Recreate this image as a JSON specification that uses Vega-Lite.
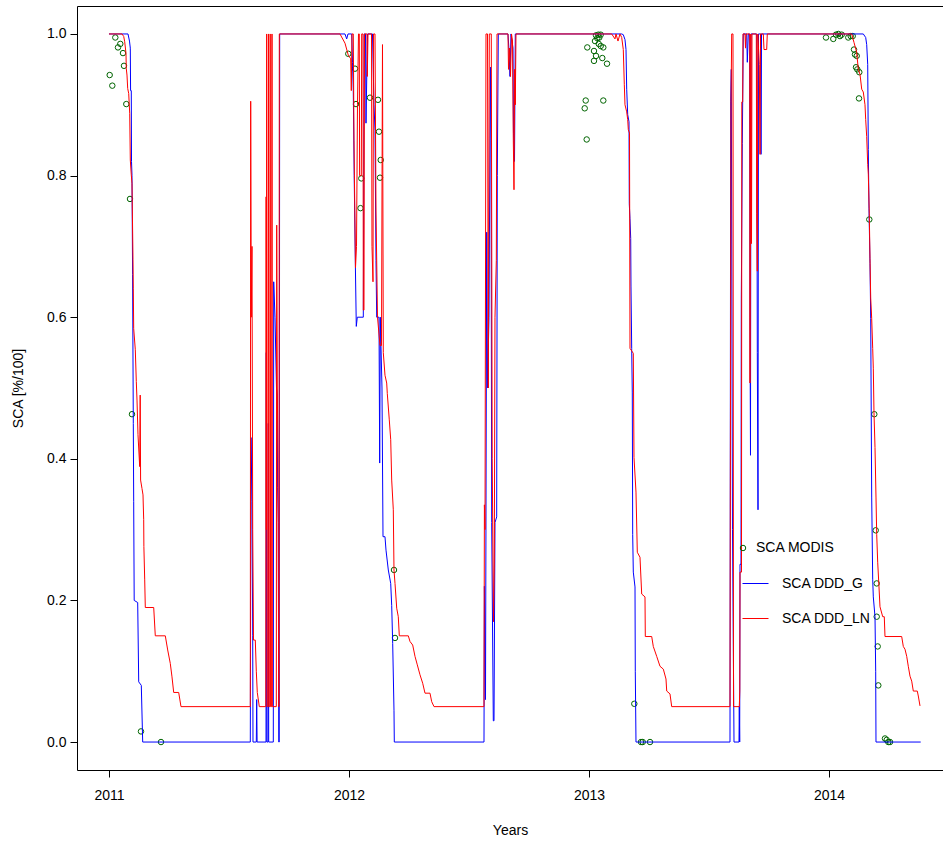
{
"$schema":"https://vega.github.io/schema/vega-lite/v6.json",
"width":866,"height":764,
"autosize":{"type":"none"},
"padding":{"left":77,"top":6,"right":0,"bottom":72},
"background":"white",
"config":{"view":{"stroke":null},"font":"Liberation Sans",
 "axis":{"grid":false,"domainColor":"#000","tickColor":"#000","labelColor":"#000","titleColor":"#000","labelFont":"Liberation Sans","titleFont":"Liberation Sans","labelFontSize":14,"titleFontSize":14,"titleFontWeight":"normal","domainWidth":1,"tickWidth":1,"tickSize":7},
 "legend":{"labelFont":"Liberation Sans","labelFontSize":14,"labelColor":"#000"}},
"datasets":{
"modis":[
{"year":2011.0029,"sca":0.942},{"year":2011.0138,"sca":0.927},{"year":2011.0263,"sca":0.995},{"year":2011.0375,"sca":0.981},{"year":2011.0471,"sca":0.986},{"year":2011.0583,"sca":0.973},{"year":2011.0625,"sca":0.955},{"year":2011.0721,"sca":0.901},{"year":2011.0875,"sca":0.767},{"year":2011.0958,"sca":0.463},{"year":2011.1333,"sca":0.015},{"year":2011.2167,"sca":0},
{"year":2011.9971,"sca":0.972},{"year":2012.025,"sca":0.951},{"year":2012.0292,"sca":0.901},{"year":2012.0479,"sca":0.754},{"year":2012.0513,"sca":0.796},{"year":2012.0875,"sca":0.91},{"year":2012.1208,"sca":0.907},{"year":2012.125,"sca":0.862},{"year":2012.1292,"sca":0.797},{"year":2012.1321,"sca":0.822},{"year":2012.1875,"sca":0.243},{"year":2012.1917,"sca":0.147},
{"year":2012.9821,"sca":0.895},{"year":2012.9863,"sca":0.906},{"year":2012.9904,"sca":0.851},{"year":2012.9929,"sca":0.981},{"year":2013.0208,"sca":0.976},{"year":2013.0208,"sca":0.962},{"year":2013.025,"sca":0.99},{"year":2013.0292,"sca":0.998},{"year":2013.0292,"sca":0.969},{"year":2013.0346,"sca":0.994},{"year":2013.0388,"sca":0.999},{"year":2013.0404,"sca":0.986},{"year":2013.0429,"sca":0.995},{"year":2013.0488,"sca":0.999},{"year":2013.0488,"sca":0.983},{"year":2013.0554,"sca":0.966},{"year":2013.0596,"sca":0.981},{"year":2013.0596,"sca":0.906},{"year":2013.075,"sca":0.958},{"year":2013.1888,"sca":0.054},{"year":2013.2167,"sca":0},{"year":2013.2238,"sca":0},{"year":2013.2542,"sca":0},
{"year":2013.9875,"sca":0.995},{"year":2014.0179,"sca":0.993},{"year":2014.0292,"sca":0.999},{"year":2014.0388,"sca":1},{"year":2014.0458,"sca":0.997},{"year":2014.0529,"sca":0.999},{"year":2014.0804,"sca":0.995},{"year":2014.0904,"sca":0.997},{"year":2014.0988,"sca":0.997},{"year":2014.1042,"sca":0.978},{"year":2014.1083,"sca":0.971},{"year":2014.1125,"sca":0.953},{"year":2014.1154,"sca":0.969},{"year":2014.1179,"sca":0.95},{"year":2014.125,"sca":0.909},{"year":2014.1263,"sca":0.946},{"year":2014.1679,"sca":0.738},{"year":2014.1888,"sca":0.463},{"year":2014.1946,"sca":0.299},{"year":2014.1988,"sca":0.224},{"year":2014.1988,"sca":0.177},{"year":2014.2029,"sca":0.135},{"year":2014.2054,"sca":0.08},{"year":2014.2333,"sca":0.005},{"year":2014.2404,"sca":0.003},{"year":2014.2471,"sca":0},{"year":2014.2542,"sca":0}
],
"g":[
{"year":2011.0,"sca":1},{"year":2011.0792,"sca":1},{"year":2011.0854,"sca":0.99},{"year":2011.0888,"sca":0.98},{"year":2011.09,"sca":0.92},{"year":2011.0929,"sca":0.92},{"year":2011.0938,"sca":0.82},{"year":2011.0958,"sca":0.8},{"year":2011.0983,"sca":0.66},{"year":2011.1013,"sca":0.45},{"year":2011.1029,"sca":0.34},{"year":2011.105,"sca":0.2},{"year":2011.1196,"sca":0.197},{"year":2011.1238,"sca":0.085},{"year":2011.1346,"sca":0.08},{"year":2011.1404,"sca":0},
{"year":2011.5888,"sca":0},{"year":2011.5917,"sca":0.43},{"year":2011.5958,"sca":0.34},{"year":2011.5988,"sca":0.15},{"year":2011.6,"sca":0},{"year":2011.6138,"sca":0},{"year":2011.6154,"sca":0.06},{"year":2011.6171,"sca":0},{"year":2011.6542,"sca":0},{"year":2011.6554,"sca":0.55},{"year":2011.6575,"sca":0},{"year":2011.6625,"sca":0},{"year":2011.6638,"sca":0.45},{"year":2011.6654,"sca":0},{"year":2011.6846,"sca":0},{"year":2011.6863,"sca":0.65},{"year":2011.6917,"sca":0.6},{"year":2011.6979,"sca":0.5},{"year":2011.7008,"sca":0.49},{"year":2011.7025,"sca":0.36},{"year":2011.7054,"sca":0.31},{"year":2011.7075,"sca":0},{"year":2011.7092,"sca":0},{"year":2011.7112,"sca":1},
{"year":2011.9833,"sca":1},{"year":2011.9904,"sca":0.993},{"year":2011.9958,"sca":1},{"year":2012.0113,"sca":1},{"year":2012.0146,"sca":0.96},{"year":2012.0179,"sca":0.92},{"year":2012.0217,"sca":0.8},{"year":2012.0263,"sca":0.68},{"year":2012.0304,"sca":0.587},{"year":2012.0346,"sca":0.6},{"year":2012.0596,"sca":0.6},{"year":2012.0633,"sca":1},{"year":2012.0688,"sca":1},{"year":2012.0708,"sca":0.874},{"year":2012.0738,"sca":0.935},{"year":2012.0771,"sca":1},{"year":2012.0979,"sca":1},{"year":2012.1042,"sca":0.9},{"year":2012.1083,"sca":0.864},{"year":2012.1125,"sca":0.68},{"year":2012.1154,"sca":0.6},{"year":2012.125,"sca":0.6},{"year":2012.1279,"sca":0.394},{"year":2012.1304,"sca":0.6},{"year":2012.1375,"sca":0.5},{"year":2012.1417,"sca":0.29},{"year":2012.15,"sca":0.29},{"year":2012.1542,"sca":0.271},{"year":2012.1638,"sca":0.243},{"year":2012.1738,"sca":0.224},{"year":2012.1779,"sca":0.193},{"year":2012.1821,"sca":0.139},{"year":2012.1875,"sca":0.045},{"year":2012.1888,"sca":0},
{"year":2012.5625,"sca":0},{"year":2012.5642,"sca":0.22},{"year":2012.5688,"sca":0.06},{"year":2012.5738,"sca":0.72},{"year":2012.5771,"sca":0.5},{"year":2012.5833,"sca":0.6},{"year":2012.5875,"sca":0.853},{"year":2012.5896,"sca":0.953},{"year":2012.5917,"sca":0.85},{"year":2012.5946,"sca":0.31},{"year":2012.6013,"sca":0.03},{"year":2012.6042,"sca":0.03},{"year":2012.6083,"sca":0.31},{"year":2012.6154,"sca":0.318},{"year":2012.6179,"sca":0.8},{"year":2012.6221,"sca":1},{"year":2012.6625,"sca":1},{"year":2012.6667,"sca":0.977},{"year":2012.6708,"sca":0.94},{"year":2012.675,"sca":1},{"year":2012.6833,"sca":0.98},{"year":2012.6854,"sca":0.86},{"year":2012.6896,"sca":0.82},{"year":2012.6929,"sca":1},
{"year":2013.1363,"sca":1},{"year":2013.1429,"sca":0.999},{"year":2013.15,"sca":0.992},{"year":2013.1542,"sca":0.978},{"year":2013.1571,"sca":0.922},{"year":2013.1613,"sca":0.886},{"year":2013.1667,"sca":0.876},{"year":2013.1679,"sca":0.76},{"year":2013.1708,"sca":0.739},{"year":2013.1738,"sca":0.711},{"year":2013.175,"sca":0.644},{"year":2013.1779,"sca":0.556},{"year":2013.1804,"sca":0.493},{"year":2013.1821,"sca":0.293},{"year":2013.1846,"sca":0.24},{"year":2013.1917,"sca":0.219},{"year":2013.1929,"sca":0.1},{"year":2013.1958,"sca":0},
{"year":2013.5875,"sca":0},{"year":2013.5904,"sca":0.904},{"year":2013.5929,"sca":0.95},{"year":2013.5979,"sca":0.3},{"year":2013.6042,"sca":0},{"year":2013.625,"sca":0},{"year":2013.6263,"sca":0.05},{"year":2013.6279,"sca":0},{"year":2013.6292,"sca":0.251},{"year":2013.6333,"sca":0.251},{"year":2013.6346,"sca":0.627},{"year":2013.6388,"sca":0.845},{"year":2013.6429,"sca":1},{"year":2013.6571,"sca":1},{"year":2013.6596,"sca":0.96},{"year":2013.6638,"sca":1},{"year":2013.6696,"sca":1},{"year":2013.6708,"sca":0.599},{"year":2013.6729,"sca":0.405},{"year":2013.675,"sca":1},{"year":2013.6988,"sca":1},{"year":2013.7013,"sca":0.55},{"year":2013.7042,"sca":0.328},{"year":2013.7063,"sca":1},{"year":2013.7154,"sca":1},{"year":2013.7167,"sca":0.83},{"year":2013.7188,"sca":1},
{"year":2014.1429,"sca":1},{"year":2014.1529,"sca":0.995},{"year":2014.1571,"sca":0.985},{"year":2014.1613,"sca":0.957},{"year":2014.1638,"sca":0.837},{"year":2014.1667,"sca":0.753},{"year":2014.1708,"sca":0.676},{"year":2014.1738,"sca":0.598},{"year":2014.1779,"sca":0.346},{"year":2014.1821,"sca":0.23},{"year":2014.1846,"sca":0.205},{"year":2014.1917,"sca":0.177},{"year":2014.1946,"sca":0.1},{"year":2014.1958,"sca":0},{"year":2014.3821,"sca":0}
],
"ln":[
{"year":2011.0,"sca":1},{"year":2011.0542,"sca":1},{"year":2011.0613,"sca":0.9965},{"year":2011.0654,"sca":0.989},{"year":2011.0708,"sca":0.973},{"year":2011.0721,"sca":0.951},{"year":2011.075,"sca":0.942},{"year":2011.0779,"sca":0.923},{"year":2011.0821,"sca":0.916},{"year":2011.0863,"sca":0.888},{"year":2011.0888,"sca":0.822},{"year":2011.0929,"sca":0.801},{"year":2011.0958,"sca":0.789},{"year":2011.1,"sca":0.681},{"year":2011.1013,"sca":0.64},{"year":2011.1029,"sca":0.584},{"year":2011.1096,"sca":0.554},{"year":2011.1138,"sca":0.509},{"year":2011.1167,"sca":0.483},{"year":2011.1208,"sca":0.434},{"year":2011.1279,"sca":0.389},{"year":2011.13,"sca":0.49},{"year":2011.1317,"sca":0.37},{"year":2011.1375,"sca":0.358},{"year":2011.1417,"sca":0.349},{"year":2011.1446,"sca":0.314},{"year":2011.1454,"sca":0.276},{"year":2011.1488,"sca":0.229},{"year":2011.1513,"sca":0.19},{"year":2011.1863,"sca":0.19},{"year":2011.1929,"sca":0.15},{"year":2011.2346,"sca":0.15},{"year":2011.2446,"sca":0.13},{"year":2011.2554,"sca":0.111},{"year":2011.2625,"sca":0.092},{"year":2011.2696,"sca":0.07},{"year":2011.2904,"sca":0.07},{"year":2011.3,"sca":0.05},
{"year":2011.5888,"sca":0.05},{"year":2011.5904,"sca":0.905},{"year":2011.5929,"sca":0.6},{"year":2011.5958,"sca":0.7},{"year":2011.5988,"sca":0.3},{"year":2011.6021,"sca":0.144},{"year":2011.6096,"sca":0.144},{"year":2011.6138,"sca":0.1},{"year":2011.6179,"sca":0.07},{"year":2011.6263,"sca":0.05},{"year":2011.6533,"sca":0.05},{"year":2011.6546,"sca":0.77},{"year":2011.6558,"sca":0.3},{"year":2011.6571,"sca":1},{"year":2011.6592,"sca":0.05},{"year":2011.6629,"sca":0.05},{"year":2011.6646,"sca":1},{"year":2011.6663,"sca":0.05},{"year":2011.67,"sca":0.05},{"year":2011.6717,"sca":1},{"year":2011.6733,"sca":0.05},{"year":2011.6775,"sca":0.05},{"year":2011.6792,"sca":1},{"year":2011.6808,"sca":0.05},{"year":2011.6971,"sca":0.05},{"year":2011.6988,"sca":0.73},{"year":2011.7013,"sca":0.5},{"year":2011.7042,"sca":0.4},{"year":2011.7071,"sca":0.05},{"year":2011.7083,"sca":0.05},{"year":2011.7096,"sca":1},
{"year":2011.9625,"sca":1},{"year":2011.9833,"sca":0.987},{"year":2011.9971,"sca":0.97},{"year":2012.0071,"sca":0.965},{"year":2012.0096,"sca":0.92},{"year":2012.0125,"sca":1},{"year":2012.0179,"sca":1},{"year":2012.0208,"sca":0.85},{"year":2012.0271,"sca":0.67},{"year":2012.0313,"sca":0.7},{"year":2012.0354,"sca":0.9},{"year":2012.0396,"sca":1},{"year":2012.0429,"sca":1},{"year":2012.0442,"sca":0.8},{"year":2012.0513,"sca":0.8},{"year":2012.0529,"sca":1},{"year":2012.0583,"sca":1},{"year":2012.0596,"sca":0.61},{"year":2012.0625,"sca":0.61},{"year":2012.0646,"sca":1},{"year":2012.075,"sca":1},{"year":2012.0763,"sca":0.94},{"year":2012.0792,"sca":1},{"year":2012.0938,"sca":1},{"year":2012.0958,"sca":0.7},{"year":2012.1,"sca":0.65},{"year":2012.1021,"sca":1},{"year":2012.1083,"sca":1},{"year":2012.1125,"sca":0.75},{"year":2012.1188,"sca":0.6},{"year":2012.1292,"sca":0.56},{"year":2012.1354,"sca":0.56},{"year":2012.1396,"sca":0.985},{"year":2012.1429,"sca":0.55},{"year":2012.15,"sca":0.518},{"year":2012.1571,"sca":0.507},{"year":2012.1596,"sca":0.492},{"year":2012.1679,"sca":0.455},{"year":2012.1738,"sca":0.427},{"year":2012.1779,"sca":0.37},{"year":2012.1846,"sca":0.328},{"year":2012.1875,"sca":0.243},{"year":2012.1917,"sca":0.224},{"year":2012.1988,"sca":0.189},{"year":2012.2054,"sca":0.177},{"year":2012.2096,"sca":0.15},{"year":2012.2471,"sca":0.15},{"year":2012.2542,"sca":0.142},{"year":2012.2654,"sca":0.137},{"year":2012.275,"sca":0.121},{"year":2012.2846,"sca":0.109},{"year":2012.2958,"sca":0.095},{"year":2012.3071,"sca":0.083},{"year":2012.3167,"sca":0.069},{"year":2012.3375,"sca":0.069},{"year":2012.3446,"sca":0.057},{"year":2012.3542,"sca":0.05},
{"year":2012.5625,"sca":0.05},{"year":2012.5642,"sca":0.335},{"year":2012.5667,"sca":0.3},{"year":2012.5708,"sca":1},{"year":2012.5771,"sca":1},{"year":2012.5804,"sca":0.5},{"year":2012.5846,"sca":1},{"year":2012.5929,"sca":1},{"year":2012.5967,"sca":0.4},{"year":2012.6021,"sca":0.17},{"year":2012.6054,"sca":0.25},{"year":2012.6083,"sca":0.6},{"year":2012.6138,"sca":0.68},{"year":2012.6167,"sca":1},{"year":2012.6625,"sca":1},{"year":2012.6646,"sca":0.95},{"year":2012.6688,"sca":0.98},{"year":2012.6729,"sca":0.94},{"year":2012.6771,"sca":1},{"year":2012.6813,"sca":0.99},{"year":2012.6846,"sca":0.85},{"year":2012.6875,"sca":0.78},{"year":2012.6904,"sca":0.95},{"year":2012.6929,"sca":0.9},{"year":2012.6958,"sca":1},
{"year":2013.0946,"sca":1},{"year":2013.1083,"sca":0.993},{"year":2013.1125,"sca":1},{"year":2013.1208,"sca":0.99},{"year":2013.1292,"sca":1},{"year":2013.1363,"sca":0.995},{"year":2013.1429,"sca":0.978},{"year":2013.1471,"sca":0.929},{"year":2013.15,"sca":0.9},{"year":2013.1571,"sca":0.89},{"year":2013.1613,"sca":0.879},{"year":2013.1638,"sca":0.865},{"year":2013.1688,"sca":0.86},{"year":2013.1708,"sca":0.556},{"year":2013.1846,"sca":0.549},{"year":2013.1875,"sca":0.402},{"year":2013.1958,"sca":0.353},{"year":2013.2013,"sca":0.268},{"year":2013.2125,"sca":0.261},{"year":2013.2196,"sca":0.209},{"year":2013.2333,"sca":0.205},{"year":2013.2346,"sca":0.149},{"year":2013.2613,"sca":0.149},{"year":2013.2679,"sca":0.135},{"year":2013.2821,"sca":0.121},{"year":2013.2958,"sca":0.107},{"year":2013.3096,"sca":0.103},{"year":2013.3208,"sca":0.089},{"year":2013.3238,"sca":0.072},{"year":2013.3375,"sca":0.068},{"year":2013.3446,"sca":0.05},
{"year":2013.5875,"sca":0.05},{"year":2013.5917,"sca":0.9},{"year":2013.5946,"sca":1},{"year":2013.6,"sca":1},{"year":2013.6021,"sca":0.05},{"year":2013.6263,"sca":0.05},{"year":2013.6283,"sca":0.072},{"year":2013.6292,"sca":0.24},{"year":2013.6354,"sca":0.24},{"year":2013.6367,"sca":0.904},{"year":2013.6404,"sca":0.904},{"year":2013.6417,"sca":1},{"year":2013.65,"sca":1},{"year":2013.6521,"sca":0.98},{"year":2013.6542,"sca":1},{"year":2013.6696,"sca":1},{"year":2013.6708,"sca":0.507},{"year":2013.6742,"sca":1},{"year":2013.6771,"sca":0.704},{"year":2013.6792,"sca":1},{"year":2013.6971,"sca":1},{"year":2013.6988,"sca":0.746},{"year":2013.7013,"sca":0.665},{"year":2013.7033,"sca":1},{"year":2013.7096,"sca":0.957},{"year":2013.7125,"sca":0.83},{"year":2013.7146,"sca":1},{"year":2013.7263,"sca":1},{"year":2013.7292,"sca":0.978},{"year":2013.7404,"sca":0.978},{"year":2013.7429,"sca":1},
{"year":2014.0946,"sca":1},{"year":2014.1042,"sca":0.988},{"year":2014.1154,"sca":0.974},{"year":2014.1221,"sca":0.95},{"year":2014.1292,"sca":0.943},{"year":2014.1363,"sca":0.922},{"year":2014.1429,"sca":0.918},{"year":2014.15,"sca":0.9},{"year":2014.1529,"sca":0.879},{"year":2014.1571,"sca":0.855},{"year":2014.1613,"sca":0.816},{"year":2014.1638,"sca":0.802},{"year":2014.1679,"sca":0.746},{"year":2014.1708,"sca":0.683},{"year":2014.1738,"sca":0.627},{"year":2014.1779,"sca":0.598},{"year":2014.1821,"sca":0.556},{"year":2014.1846,"sca":0.528},{"year":2014.1875,"sca":0.465},{"year":2014.1917,"sca":0.416},{"year":2014.1958,"sca":0.346},{"year":2014.1988,"sca":0.293},{"year":2014.2029,"sca":0.254},{"year":2014.2083,"sca":0.219},{"year":2014.2125,"sca":0.191},{"year":2014.2238,"sca":0.177},{"year":2014.2304,"sca":0.177},{"year":2014.2333,"sca":0.149},{"year":2014.3029,"sca":0.149},{"year":2014.3096,"sca":0.135},{"year":2014.3167,"sca":0.131},{"year":2014.3238,"sca":0.121},{"year":2014.3304,"sca":0.107},{"year":2014.3375,"sca":0.093},{"year":2014.3446,"sca":0.086},{"year":2014.3513,"sca":0.072},{"year":2014.3679,"sca":0.072},{"year":2014.3721,"sca":0.065},{"year":2014.3792,"sca":0.051}
]},
"layer":[
{"data":{"name":"modis"},
 "mark":{"type":"point","filled":false,"color":"#006400","size":30,"strokeWidth":1,"opacity":1},
 "encoding":{
  "x":{"field":"year","type":"quantitative","scale":{"domain":[2010.8667,2014.475],"nice":false,"zero":false},"axis":{"orient":"top","labels":false,"ticks":false,"title":null,"domain":true}},
  "y":{"field":"sca","type":"quantitative","scale":{"domain":[-0.0395,1.0395],"nice":false,"zero":false},"axis":{"values":[0,0.2,0.4,0.6,0.8,1],"format":".1f","labelAngle":0,"labelPadding":4,"title":"SCA [%/100]","titleX":-59,"titleBaseline":"middle"}},
  "shape":{"datum":"SCA MODIS","scale":{"range":["circle"]},"legend":{"orient":"none","legendX":659,"legendY":535,"title":null,"symbolSize":30,"symbolStrokeColor":"#006400","symbolFillColor":"transparent","symbolStrokeWidth":1,"labelOffset":6,"padding":0}}}},
{"data":{"name":"g"},
 "mark":{"type":"line","strokeWidth":1,"interpolate":"linear"},
 "encoding":{
  "x":{"field":"year","type":"quantitative","scale":{"domain":[2010.8667,2014.475],"nice":false,"zero":false},"axis":{"orient":"bottom","values":[2011,2012,2013,2014],"format":"d","labelPadding":11,"title":"Years","titleY":60,"titleBaseline":"middle","labelFlush":false,"labelOverlap":false}},
  "y":{"field":"sca","type":"quantitative","scale":{"domain":[-0.0395,1.0395],"nice":false,"zero":false},"axis":{"values":[0,0.2,0.4,0.6,0.8,1],"format":".1f","labelAngle":0,"labelPadding":4,"title":"SCA [%/100]","titleX":-59,"titleBaseline":"middle"}},
  "stroke":{"datum":"SCA DDD_G","scale":{"domain":["SCA DDD_G","SCA DDD_LN"],"range":["#0000ff","#ff0000"]},"legend":{"orient":"none","legendX":665,"legendY":564,"title":null,"symbolType":"stroke","symbolSize":676,"symbolStrokeWidth":1,"labelOffset":13,"rowPadding":14,"padding":0}}}},
{"data":{"name":"ln"},
 "mark":{"type":"line","strokeWidth":1,"interpolate":"linear"},
 "encoding":{
  "x":{"field":"year","type":"quantitative","scale":{"domain":[2010.8667,2014.475],"nice":false,"zero":false},"axis":null},
  "y":{"field":"sca","type":"quantitative","scale":{"domain":[-0.0395,1.0395],"nice":false,"zero":false},"axis":{"values":[0,0.2,0.4,0.6,0.8,1],"format":".1f","labelAngle":0,"labelPadding":4,"title":"SCA [%/100]","titleX":-59,"titleBaseline":"middle"}},
  "stroke":{"datum":"SCA DDD_LN"}}}
],
"resolve":{"axis":{"x":"independent"}}
}
